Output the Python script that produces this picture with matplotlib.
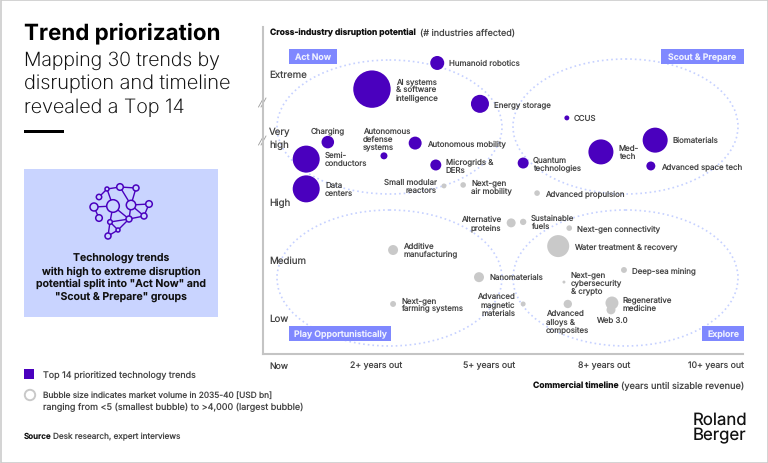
import matplotlib
matplotlib.use("Agg")
import matplotlib.pyplot as plt
from matplotlib.patches import Rectangle, Ellipse, Circle

FONT = "Inter"
plt.rcParams["font.family"] = [FONT, "DejaVu Sans"]
plt.rcParams["text.hinting"] = "no_hinting"
plt.rcParams["text.hinting_factor"] = 1

# ---------- data ----------
names = ["Humanoid robotics", "AI systems\n& software\nintelligence", "Energy storage", "Charging",
         "Autonomous\ndefense\nsystems", "Autonomous mobility", "Semi-\nconductors", "Data\ncenters",
         "Microgrids &\nDERs", "Small modular\nreactors", "Next-gen\nair mobility", "CCUS",
         "Quantum\ntechnologies", "Med-\ntech", "Biomaterials", "Advanced space tech",
         "Advanced propulsion", "Alternative\nproteins", "Additive\nmanufacturing", "Nanomaterials",
         "Next-gen\nfarming systems", "Sustainable\nfuels", "Next-gen connectivity",
         "Water treatment & recovery", "Deep-sea mining", "Next-gen\ncybersecurity\n& crypto",
         "Advanced\nmagnetic\nmaterials", "Advanced\nalloys &\ncomposites", "Regenerative\nmedicine", "Web 3.0"]
timeline = [3.63, 2.27, 4.52, 1.35, 2.52, 3.17, 0.90, 0.90, 3.60, 3.77, 4.17, 6.33, 5.42, 7.04, 8.17,
            8.08, 5.71, 5.17, 2.71, 4.50, 2.71, 5.42, 6.38, 6.15, 7.52, 6.27, 5.42, 6.35, 7.27, 7.25]
disruption = [8.90, 8.10, 7.65, 6.48, 6.06, 6.45, 5.96, 5.05, 5.78, 5.14, 5.17, 7.22, 5.84, 6.18, 6.54,
              5.75, 4.92, 4.01, 3.18, 2.35, 1.53, 4.04, 3.85, 3.30, 2.57, 2.20, 1.53, 1.53, 1.56, 1.35]
market_volume = [560, 4000, 930, 450, 140, 480, 2085, 2085, 345, 70, 90, 70, 345, 1790, 1790,
                 230, 90, 230, 285, 285, 100, 115, 90, 1385, 100, 25, 70, 200, 480, 230]
top14 = [1, 1, 1, 1, 1, 1, 1, 1, 1, 0, 0, 1, 1, 1, 1, 1, 0, 0, 0, 0, 0, 0, 0, 0, 0, 0, 0, 0, 0, 0]
y_levels = ["Extreme", "Very\nhigh", "High", "Medium", "Low"]
x_levels = ["Now", "2+ years out", "5+ years out", "8+ years out", "10+ years out"]
groups = ["Act Now", "Scout & Prepare", "Play Opportunistically", "Explore"]

# ---------- layout (pixels) ----------
W, H = 768, 464
PURPLE, GREY, TAG, PALE, DOT = "#4A00BE", "#C9C9C9", "#7F88FF", "#C9D4FF", "#C6D1FF"
INK, SOFT = "#111111", "#444444"
LBL = 5.7
label_off = [(12, 0, "left"), (24, 0, "left"), (14, 0, "left"), (0, -12, "center"), (-21, -17, "left"),
             (12, 0, "left"), (19, 0, "left"), (19, 0, "left"), (10, 0, "left"), (-7, 0, "right"),
             (8, 1, "left"), (7, 0, "left"), (10, 0, "left"), (18, 0, "left"), (17, 0, "left"),
             (10, 0, "left"), (8, 0, "left"), (-10, 0, "right"), (10, 0, "left"), (10, 0, "left"),
             (8, 0, "left"), (8, 0, "left"), (8, 0, "left"), (16, 0, "left"), (8, 0, "left"),
             (7, 0, "left"), (-8, 0, "right"), (-22, 17, "left"), (11, 0, "left"), (-15, 10, "left")]

fig = plt.figure(figsize=(W / 100, H / 100), dpi=100, facecolor="white")
bg = fig.add_axes([0, 0, 1, 1])
bg.set_xlim(0, W)
bg.set_ylim(H, 0)
bg.axis("off")

def T(x, y, s, size=LBL, ha="left", va="center", color=SOFT, weight="normal", **kw):
    return bg.text(x, y, s, fontsize=size, ha=ha, va=va, color=color, fontweight=weight, **kw)

# frame
bg.add_patch(Rectangle((0.5, 0.5), W - 1, H - 1, fill=False, ec="#CCCCCC", lw=1.2))

# left heading
T(24, 33, "Trend priorization", 16.1, color="#000000", weight="bold")
for y, s, fs in zip((60.5, 84, 108), ("Mapping 30 trends by", "disruption and timeline", "revealed a Top 14"),
                    (14.0, 14.4, 14.2)):
    T(24, y, s, fs, color="#111111", weight="light")
bg.add_patch(Rectangle((24, 130.5), 40, 3.5, fc="black", ec="none"))

# info box
bg.add_patch(Rectangle((24, 170), 194, 148, fc=PALE, ec="none"))
nodes = [(113, 207, 6.3), (131, 206, 4.7), (120, 188, 3.3), (136, 189, 3), (107, 190, 2), (99, 198, 2.7),
         (94, 208, 4), (99, 219, 3.3), (149, 205, 3.3), (144, 217, 3), (129, 220, 3), (110, 223, 2.3),
         (118, 231, 2), (108, 237, 3)]
edges = [(5, 4), (4, 2), (2, 1), (3, 1), (2, 3), (4, 0), (6, 0), (7, 6), (0, 10), (1, 8), (1, 9), (1, 10),
         (8, 9), (10, 9), (11, 10), (0, 11), (11, 12), (10, 12), (11, 13), (12, 13)]
for a, b in edges:
    bg.plot([nodes[a][0], nodes[b][0]], [nodes[a][1], nodes[b][1]], color=PURPLE, lw=1.0, zorder=3)
for x, y, r in nodes:
    bg.add_patch(Circle((x, y), r, fc=PALE, ec=PURPLE, lw=1.1, zorder=4))
for y, s in zip((259, 271.5, 284, 296.5), ("Technology trends", "with high to extreme disruption",
                                           'potential split into "Act Now" and', '"Scout & Prepare" groups')):
    T(121, y, s, 7.6, ha="center", color=INK, weight="semibold")

# legend & source
bg.add_patch(Rectangle((24, 370), 10, 10, fc=PURPLE, ec="none"))
T(43, 375.5, "Top 14 prioritized technology trends", 6.45)
bg.add_patch(Circle((30, 396), 5.2, fc="white", ec=GREY, lw=1.4))
T(43, 395.5, "Bubble size indicates market volume in 2035-40 [USD bn]", 6.0)
T(43, 407, "ranging from <5 (smallest bubble) to >4,000 (largest bubble)", 6.5)
T(24, 437, "Source", 5.8, color=INK, weight="semibold")
T(53, 437, "Desk research, expert interviews", 5.9)
T(693, 420.5, "Roland", 12.1, color="#111111")
T(693, 435.5, "Berger", 12.1, color="#111111")

# axis titles
T(269.5, 33, "Cross-industry disruption potential", 6.1, color=INK, weight="bold")
T(420, 33, "(# industries affected)", 6.5)
T(533, 386, "Commercial timeline", 6.15, color=INK, weight="bold")
T(744, 386, "(years until sizable revenue)", 6.65, ha="right")

# axis level labels
for y, s in zip((75, 139, 203, 261, 319), y_levels):
    T(269, y, s, 7.0, linespacing=1.45)
for x, ha, s in zip((269, 350, 463, 578, 744), ("left", "left", "left", "left", "right"), x_levels):
    T(x, 366, s, 6.3, ha=ha)

# chart axes
L, R, TOP, BOT = 263, 743, 28, 355
ax = fig.add_axes([L / W, 1 - BOT / H, (R - L) / W, (BOT - TOP) / H])
ax.patch.set_alpha(0)
ax.set_xlim(0, 10)
ax.set_ylim(0, 10)
ax.set_xticks([])
ax.set_yticks([])
for k in ("top", "right"):
    ax.spines[k].set_visible(False)
for k in ("left", "bottom"):
    ax.spines[k].set_color("#C4C4C4")
    ax.spines[k].set_linewidth(1.5)

# quadrant ellipses and tags
for cx, cy, w, h in ((277 + 112.5, 128, 225, 134), (513 + 112.5, 127.5, 225, 135),
                     (277 + 112.5, 279, 225, 136), (513 + 112.5, 279, 225, 136)):
    bg.add_patch(Ellipse((cx, cy), w, h, fill=False, ec=DOT, lw=1.2, ls=(0, (1, 1.8)), zorder=2))
for (x0, x1, y0), s in zip(((289, 337, 50), (661, 744, 50), (289, 391, 327), (702, 744, 327)), groups):
    bg.add_patch(Rectangle((x0, y0), x1 - x0, 15, fc=TAG, ec="none", zorder=3))
    T((x0 + x1) / 2, y0 + 7.5, s, 6.3, ha="center", color="#EEF0FF", weight="semibold", zorder=4)

# axis break marks
for y in (103, 141):
    for d in (0, 2.5):
        bg.plot([258.5 + d, 263.5 + d], [108 + y - 103, 99 + y - 103], color="#9A9A9A", lw=0.6, zorder=5)

# bubbles
k = (2 * 18.7 * 0.72) ** 2 / 4000
sizes = [v * k for v in market_volume]
colors = [PURPLE if t else GREY for t in top14]
ax.scatter(timeline, disruption, s=sizes, c=colors, linewidths=0, zorder=4, clip_on=False)

for n, x, y, (dx, dy, ha) in zip(names, timeline, disruption, label_off):
    ax.annotate(n, (x, y), xytext=(dx * 0.72, -dy * 0.72), textcoords="offset points", ha=ha,
                va="center", fontsize=LBL, color=SOFT, linespacing=1.08, zorder=5)

fig.savefig("out.png", dpi=100)
